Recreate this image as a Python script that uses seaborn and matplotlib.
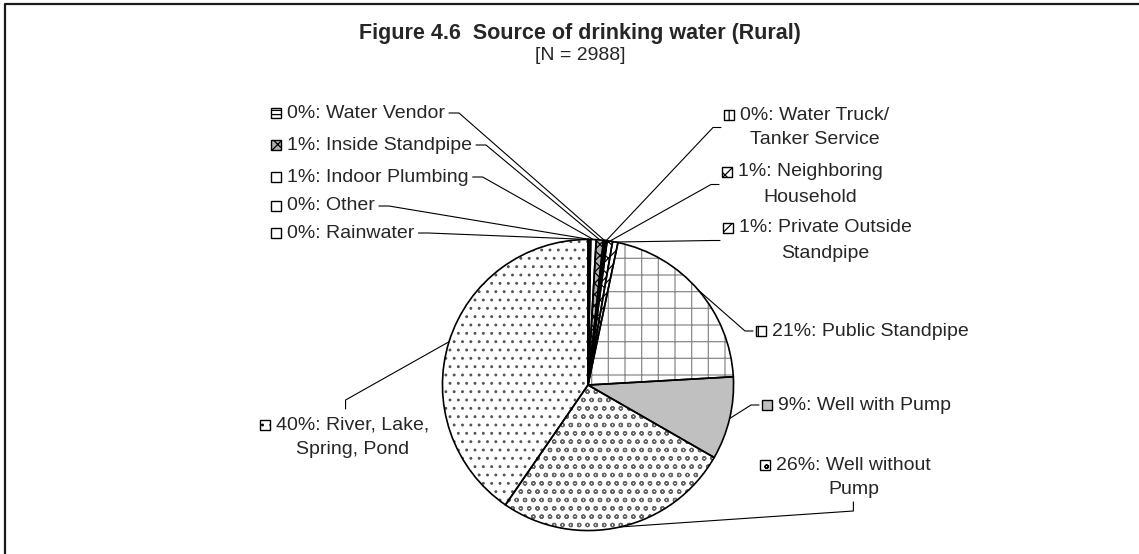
import matplotlib

matplotlib.use("Agg")
import numpy as np
import seaborn as sns
from matplotlib import pyplot as plt
from matplotlib.patches import Rectangle

# slices in clockwise order starting at 12 o'clock
sources = [
    "Rainwater",
    "Other",
    "Indoor Plumbing",
    "Inside Standpipe",
    "Water Vendor",
    "Water Truck/\nTanker Service",
    "Neighboring\nHousehold",
    "Private Outside\nStandpipe",
    "Public Standpipe",
    "Well with Pump",
    "Well without\nPump",
    "River, Lake,\nSpring, Pond",
]
shares = [0.1, 0.2, 0.6, 0.8, 0.2, 0.2, 0.6, 0.6, 20.8, 9.2, 26.3, 40.4]
n_households = 2988
title = "Figure 4.6  Source of drinking water (Rural)"

# fill, hatch, hatch colour per slice
fills = ["white", "white", "white", "#b0b0b0", "white", "white", "white", "white",
         "white", "#c0c0c0", "white", "white"]
hatches = ["", "", "", "xxx", "----", "||", "xx", "///", "+", "", "oo", ".."]
hatch_colors = ["black", "black", "black", "black", "black", "black", "black", "black",
                "#8a8a8a", "black", "#666666", "#555555"]

# label layout in pixels: key left x, first line centre y, where the leader attaches
label_pos = [(271, 233), (271, 206), (271, 177), (271, 145), (271, 113),
             (724, 115), (722, 172), (723, 228), (756, 331), (762, 405),
             (760, 465), (260, 425)]
attach = ["left"] * 5 + ["right"] * 5 + ["bottom", "top"]

sns.set_style("white")
plt.rcParams["font.family"] = ["Liberation Sans", "DejaVu Sans"]
plt.rcParams["hatch.linewidth"] = 0.9

W, H = 1139, 554
fig = plt.figure(figsize=(W / 100, H / 100), dpi=100)
cx, cy, r = 588, 385, 147
ax = fig.add_axes([(cx - r) / W, (H - cy - r) / H, 2 * r / W, 2 * r / H])

wedges, _ = ax.pie(shares, startangle=90, counterclock=False,
                   wedgeprops=dict(linewidth=0))
for w, fc, hatch, hc in zip(wedges, fills, hatches, hatch_colors):
    w.set_facecolor(fc)
    w.set_hatch(hatch)
    w.set_edgecolor(hc)
ax.pie(shares, startangle=90, counterclock=False,
       wedgeprops=dict(fill=False, edgecolor="black", linewidth=1.2))
ax.set_xlim(-1.01, 1.01)
ax.set_ylim(-1.01, 1.01)

# overlay in pixel coordinates (y down) for texts and leader lines
ov = fig.add_axes([0, 0, 1, 1])
ov.set_xlim(0, W)
ov.set_ylim(H, 0)
ov.set_axis_off()

ov.plot([4.5, 4.5, W + 5], [H + 5, 3.5, 3.5], color="#1a1a1a", lw=1.6,
        clip_on=False)
ov.text(580, 34, title, ha="center", va="center", fontsize=15.5,
        fontweight="bold")
ov.text(580, 56, f"[N = {n_households}]", ha="center", va="center", fontsize=14)

fontsize = 14
line_gap = 25
texts = []
for name, share, (kx, ky), fc, hatch in zip(sources, shares, label_pos, fills, hatches):
    lines = f"{round(share):.0f}%: {name}".split("\n")
    ov.add_patch(Rectangle((kx, ky - 5), 10, 10, facecolor=fc, hatch=hatch,
                           edgecolor="black", lw=1.0))
    t1 = ov.text(kx + 16, ky, lines[0], ha="left", va="center", fontsize=fontsize)
    texts.append((t1, lines[1:]))

fig.canvas.draw()
inv = ov.transData.inverted()


def px_box(t):
    bb = t.get_window_extent()
    (x0, y0), (x1, y1) = inv.transform([[bb.x0, bb.y0], [bb.x1, bb.y1]])
    return min(x0, x1), min(y0, y1), max(x0, x1), max(y0, y1)


for (t1, rest), (kx, ky), w, side in zip(texts, label_pos, wedges, attach):
    x0, y0, x1, y1 = px_box(t1)
    mid = (x0 + x1) / 2
    for i, line in enumerate(rest, start=1):
        ov.text(mid, ky + i * line_gap, line, ha="center", va="center",
                fontsize=fontsize)
    n_lines = 1 + len(rest)
    yc = ky + (n_lines - 1) * line_gap / 2
    top = ky - 10
    bottom = ky + (n_lines - 1) * line_gap + 10

    theta = np.deg2rad((w.theta1 + w.theta2) / 2)
    edge = inv.transform(ax.transData.transform((np.cos(theta), np.sin(theta))))

    if side == "left":
        pts = [(x1 + 4, ky), (x1 + 14, ky), tuple(edge)]
    elif side == "right":
        pts = [(kx - 3, yc), (kx - 11, yc), tuple(edge)]
    elif side == "bottom":
        pts = [(mid, bottom + 2), (mid, bottom + 11), tuple(edge)]
    else:
        pts = [(mid - 7, top - 6), (mid - 7, top - 15), tuple(edge)]
    xs, ys = zip(*pts)
    ov.plot(xs, ys, color="black", lw=0.8)

fig.savefig("out.png", dpi=100)
